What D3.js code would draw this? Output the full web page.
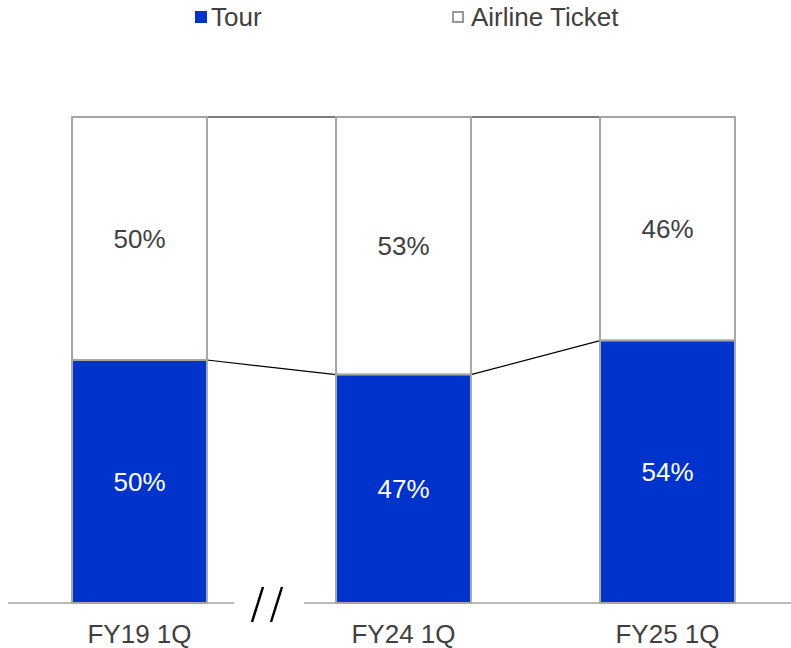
<!DOCTYPE html>
<html>
<head>
<meta charset="utf-8">
<script src="https://cdn.jsdelivr.net/npm/d3@7"></script>
<style>
  body { margin: 0; background: #fff; }
  text { font-family: "Liberation Sans", Arial, sans-serif; }
</style>
</head>
<body>
<div id="chart"></div>
<script>
// Chart data
const categories = ["FY19 1Q", "FY24 1Q", "FY25 1Q"];
const tourShare = [50, 47, 54];
const airlineShare = [50, 53, 46];
const seriesNames = ["Tour", "Airline Ticket"];

const width = 791, height = 648;
const baseY = 603, topY = 117;
const blue = "#0033CC", border = "#A6A6A6", textColor = "#404040";
const fontSize = 26;

const svg = d3.select("#chart").append("svg")
  .attr("width", width)
  .attr("height", height);

// Scales
const x = d3.scaleBand()
  .domain(categories)
  .range([7.5, 799.5])
  .paddingInner(0.489)
  .paddingOuter(0.2445);

const y = d3.scaleLinear()
  .domain([0, 100])
  .range([baseY, topY]);

const rows = categories.map((c, i) => ({ cat: c, tour: tourShare[i], air: airlineShare[i] }));

// Connector lines between bars
for (let i = 0; i < rows.length - 1; i++) {
  const x1 = x(rows[i].cat) + x.bandwidth();
  const x2 = x(rows[i + 1].cat);
  svg.append("line")
    .attr("x1", x1).attr("x2", x2)
    .attr("y1", y(100)).attr("y2", y(100))
    .attr("stroke", "#000").attr("stroke-width", 1.2);
  svg.append("line")
    .attr("x1", x1).attr("x2", x2)
    .attr("y1", y(rows[i].tour)).attr("y2", y(rows[i + 1].tour))
    .attr("stroke", "#000").attr("stroke-width", 1.2);
}

// Airline ticket segments
svg.selectAll("rect.air")
  .data(rows)
  .enter()
  .append("rect")
  .attr("class", "air")
  .attr("x", d => x(d.cat))
  .attr("y", d => y(d.tour + d.air))
  .attr("width", x.bandwidth())
  .attr("height", d => y(d.tour) - y(d.tour + d.air))
  .attr("fill", "#fff")
  .attr("stroke", border)
  .attr("stroke-width", 2);

// Tour segments
svg.selectAll("rect.tour")
  .data(rows)
  .enter()
  .append("rect")
  .attr("class", "tour")
  .attr("x", d => x(d.cat))
  .attr("y", d => y(d.tour))
  .attr("width", x.bandwidth())
  .attr("height", d => y(0) - y(d.tour))
  .attr("fill", blue)
  .attr("stroke", border)
  .attr("stroke-width", 2);

// Value labels
svg.selectAll("text.air-label")
  .data(rows)
  .enter()
  .append("text")
  .attr("x", d => x(d.cat) + x.bandwidth() / 2)
  .attr("y", d => (y(d.tour) + y(d.tour + d.air)) / 2)
  .attr("dy", "0.35em")
  .attr("text-anchor", "middle")
  .attr("font-size", fontSize)
  .attr("fill", textColor)
  .text(d => d.air + "%");

svg.selectAll("text.tour-label")
  .data(rows)
  .enter()
  .append("text")
  .attr("x", d => x(d.cat) + x.bandwidth() / 2)
  .attr("y", d => (y(0) + y(d.tour)) / 2)
  .attr("dy", "0.35em")
  .attr("text-anchor", "middle")
  .attr("font-size", fontSize)
  .attr("fill", "#fff")
  .text(d => d.tour + "%");

// Axis baseline with break
svg.append("line")
  .attr("x1", 8).attr("x2", 234).attr("y1", baseY).attr("y2", baseY)
  .attr("stroke", border).attr("stroke-width", 1.5);
svg.append("line")
  .attr("x1", 304).attr("x2", width).attr("y1", baseY).attr("y2", baseY)
  .attr("stroke", border).attr("stroke-width", 1.5);

// Break marks "//"
[0, 19].forEach(dx => {
  svg.append("line")
    .attr("x1", 263 + dx).attr("y1", 587)
    .attr("x2", 252 + dx).attr("y2", 622)
    .attr("stroke", "#000").attr("stroke-width", 2.5);
});

// Category labels
svg.selectAll("text.cat")
  .data(categories)
  .enter()
  .append("text")
  .attr("x", d => x(d) + x.bandwidth() / 2)
  .attr("y", 643)
  .attr("text-anchor", "middle")
  .attr("font-size", fontSize)
  .attr("fill", textColor)
  .text(d => d);

// Legend
const legendX = [195, 452];
const legend = svg.selectAll("g.legend")
  .data(seriesNames)
  .enter()
  .append("g")
  .attr("transform", (d, i) => `translate(${legendX[i]},0)`);

legend.append("rect")
  .attr("x", (d, i) => i === 0 ? 0 : 1)
  .attr("y", (d, i) => i === 0 ? 11 : 12)
  .attr("width", (d, i) => i === 0 ? 12 : 10)
  .attr("height", (d, i) => i === 0 ? 12 : 10)
  .attr("fill", (d, i) => i === 0 ? blue : "#fff")
  .attr("stroke", (d, i) => i === 0 ? "none" : "#999")
  .attr("stroke-width", 2);

legend.append("text")
  .attr("x", (d, i) => i === 0 ? 16 : 19)
  .attr("y", 26)
  .attr("font-size", fontSize)
  .attr("fill", textColor)
  .text(d => d);
</script>
</body>
</html>
